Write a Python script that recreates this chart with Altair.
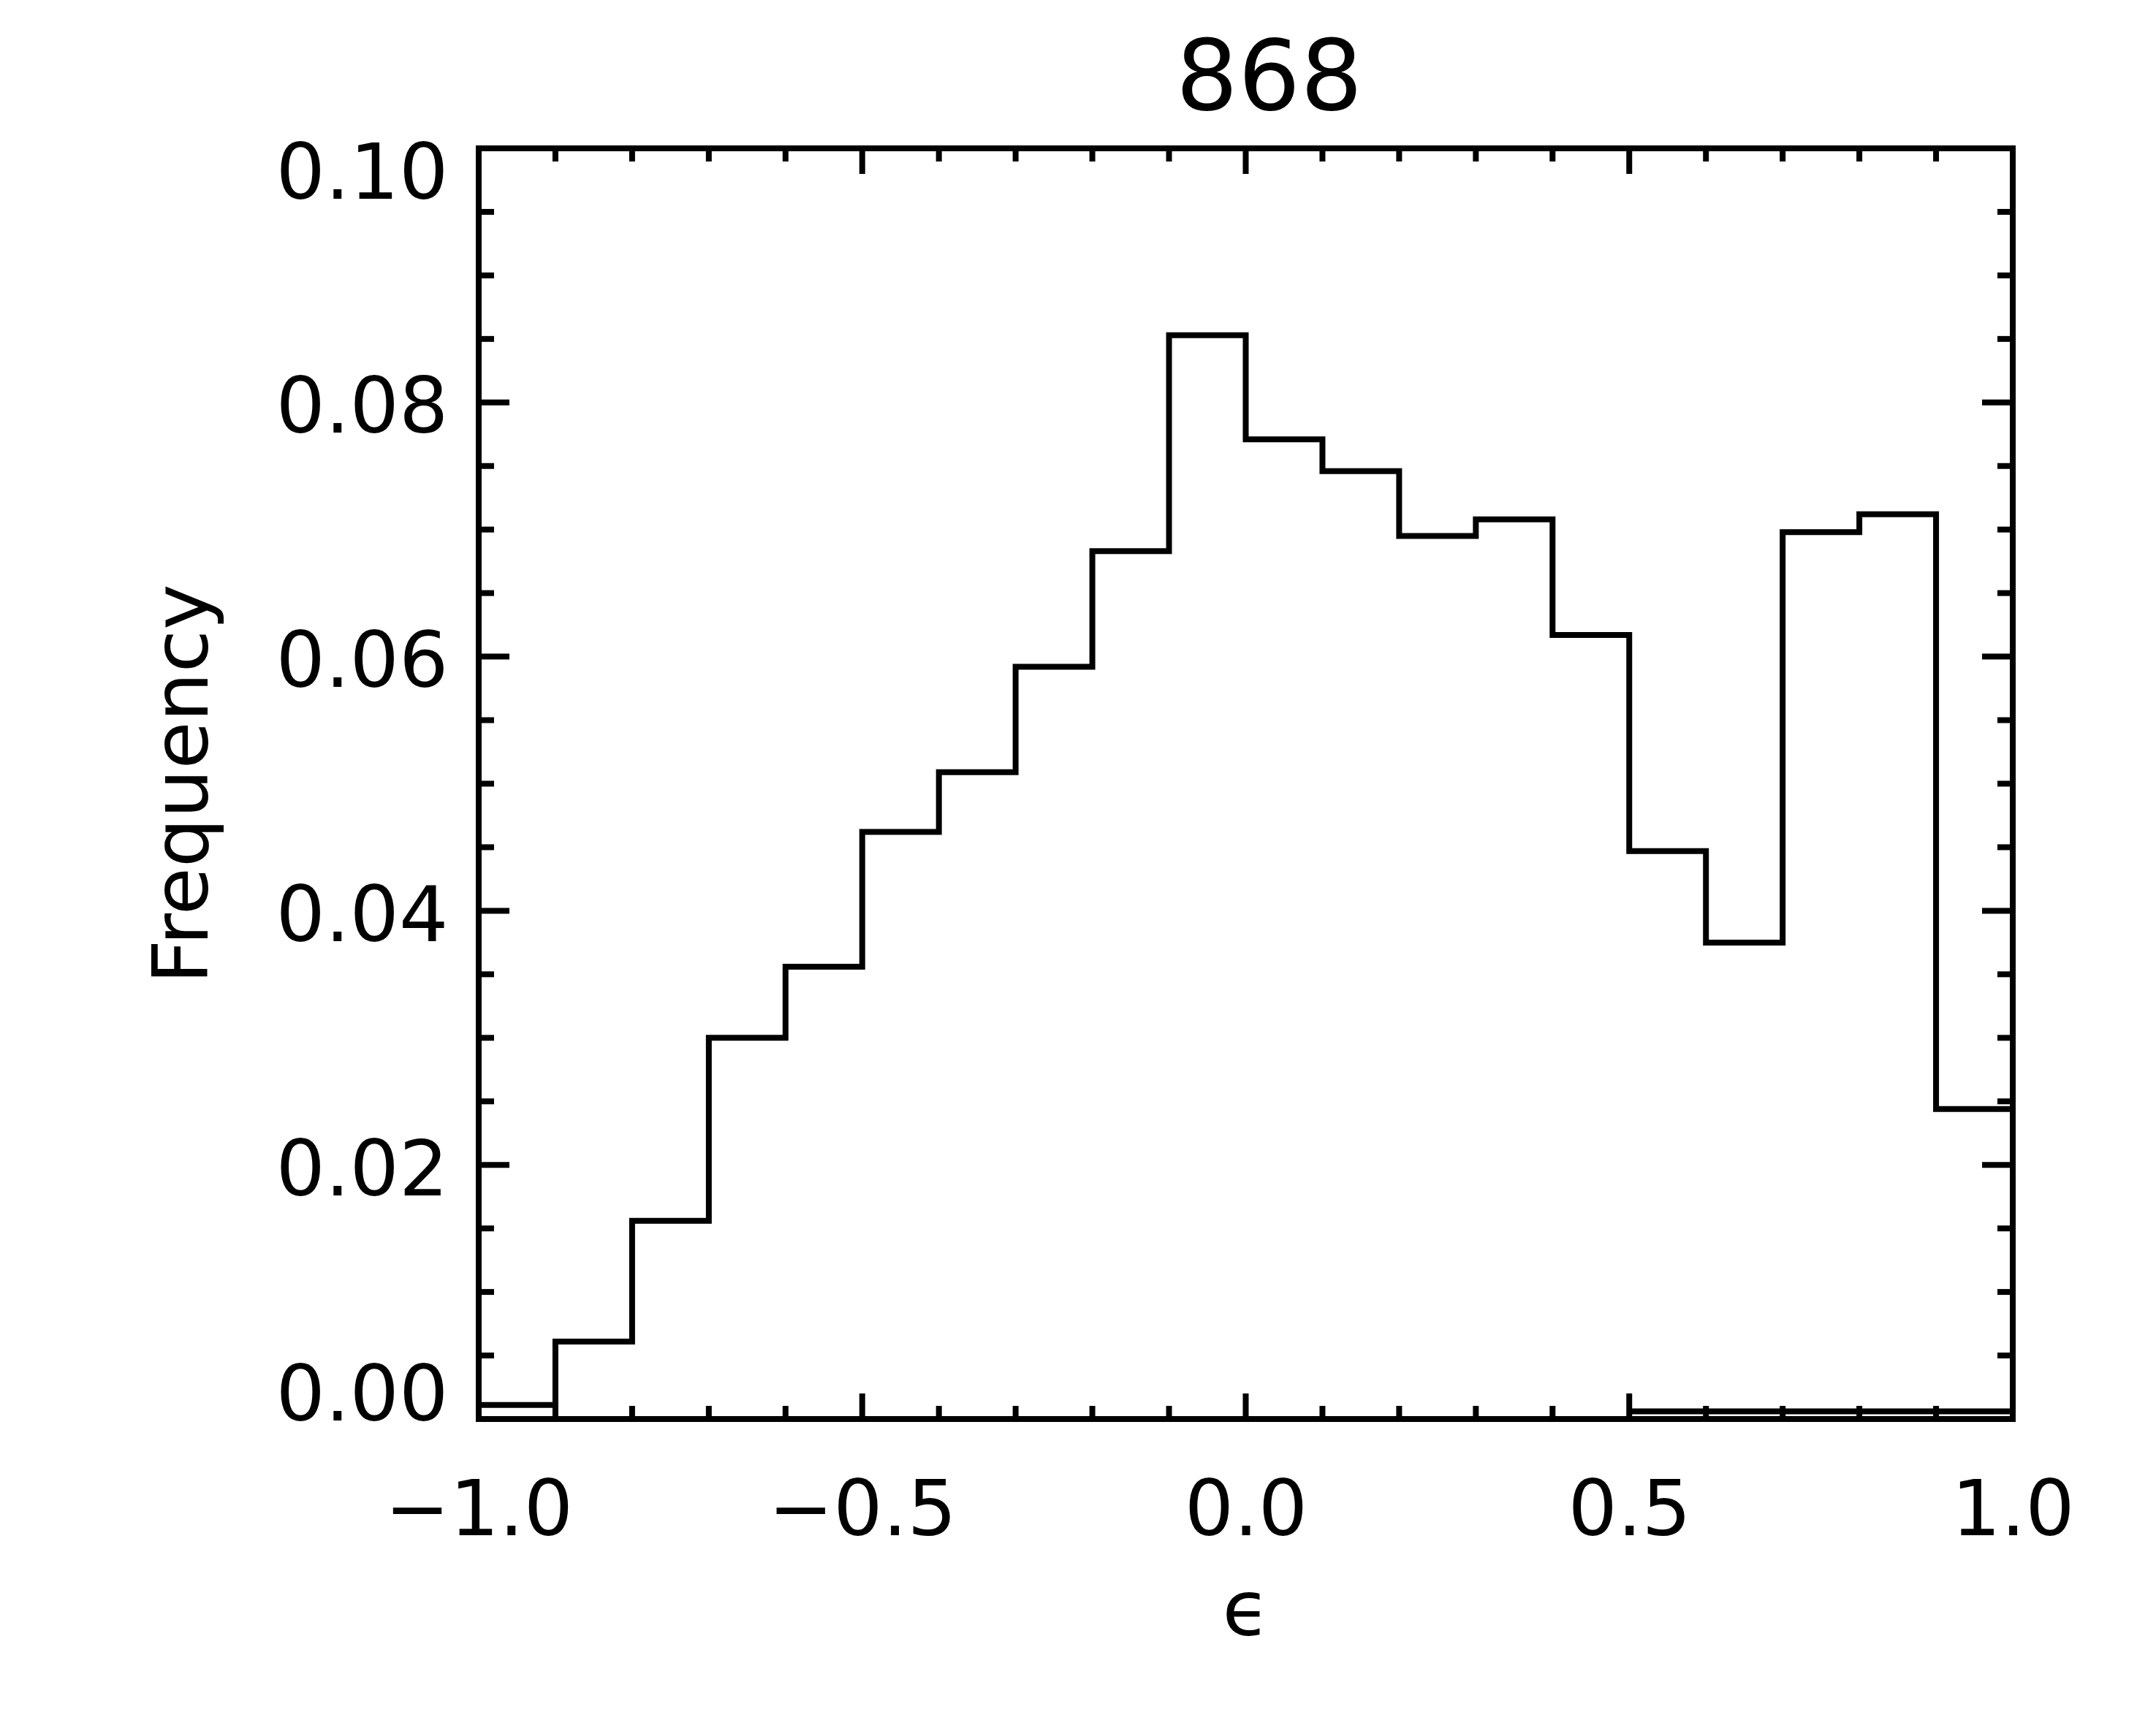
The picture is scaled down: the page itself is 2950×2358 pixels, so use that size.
import altair as alt
import pandas as pd

# ---- data ----
bin_left = [-1.0, -0.9, -0.8, -0.7, -0.6, -0.5, -0.4, -0.3, -0.2, -0.1,
            0.0, 0.1, 0.2, 0.3, 0.4, 0.5, 0.6, 0.7, 0.8, 0.9]
freq = [0.0011, 0.0061, 0.0156, 0.0300, 0.0356, 0.0462, 0.0509, 0.0592, 0.0683, 0.0853,
        0.0771, 0.0746, 0.0695, 0.0708, 0.0617, 0.0447, 0.0375, 0.0698, 0.0712, 0.0244]
x_end = 1.0

low_left = [0.5, 0.6, 0.7, 0.8, 0.9]
low_freq = [0.0006, 0.0006, 0.0006, 0.0006, 0.0006]

x_major = [-1.0, -0.5, 0.0, 0.5, 1.0]
x_minor = [-0.9, -0.8, -0.7, -0.6, -0.4, -0.3, -0.2, -0.1,
           0.1, 0.2, 0.3, 0.4, 0.6, 0.7, 0.8, 0.9]
y_major = [0.0, 0.02, 0.04, 0.06, 0.08, 0.10]
y_minor = [0.005, 0.01, 0.015, 0.025, 0.03, 0.035, 0.045, 0.05, 0.055,
           0.065, 0.07, 0.075, 0.085, 0.09, 0.095]

title_text = "868"
x_title = "ϵ"
y_title = "Frequency"

# ---- layout / style ----
FONT = "DejaVu Sans"
W, H = 2099, 1739
LW = 8
FS = 106

hist_df = pd.DataFrame({"x": bin_left + [x_end], "y": freq + [freq[-1]]})
low_df = pd.DataFrame({"x": low_left + [x_end], "y": low_freq + [low_freq[-1]]})
xmaj_df = pd.DataFrame({"x": x_major})
xmin_df = pd.DataFrame({"x": x_minor})
ymaj_df = pd.DataFrame({"y": y_major})
ymin_df = pd.DataFrame({"y": y_minor})

xs = alt.Scale(domain=[-1.0, 1.0], nice=False, zero=False)
ys = alt.Scale(domain=[0.0, 0.1], nice=False, zero=False)

x_axis = alt.Axis(
    values=x_major, format=".1f", ticks=False, tickSize=0, domain=False, grid=False,
    labelFont=FONT, labelFontSize=FS, labelColor="black", labelPadding=74,
    labelOverlap=False, labelFlush=False, labelLimit=600,
    title=x_title, titleFont=FONT, titleFontSize=FS, titleFontWeight="normal",
    titleColor="black", titleX=W / 2, titleY=295, titleBaseline="alphabetic",
    titleAlign="center", titleLimit=1000,
)
y_axis = alt.Axis(
    values=y_major, format=".2f", ticks=False, tickSize=0, domain=False, grid=False,
    labelFont=FONT, labelFontSize=FS, labelColor="black", labelPadding=42,
    labelOverlap=False, labelFlush=False, labelLimit=600,
    labelOffset={"condition": [{"test": "datum.value > 0.099", "value": 36},
                               {"test": "datum.value < 0.001", "value": -31}],
                 "value": 9},
    title=y_title, titleFont=FONT, titleFontSize=FS, titleFontWeight="normal",
    titleColor="black", titleAngle=270, titleX=-372, titleY=H / 2,
    titleBaseline="alphabetic", titleAlign="center", titleLimit=1500,
)

X = alt.X("x:Q", scale=xs, axis=x_axis)
Y = alt.Y("y:Q", scale=ys, axis=y_axis)

line_style = dict(interpolate="step-after", color="black", strokeWidth=LW,
                  strokeJoin="miter", strokeCap="butt")

hist = alt.Chart(hist_df).mark_line(**line_style).encode(x=X, y=Y)
low = alt.Chart(low_df).mark_line(**line_style).encode(x=X, y=Y)


def xticks(df, length):
    base = alt.Chart(df).mark_rule(color="black", strokeWidth=LW)
    bottom = base.encode(x=X, y=alt.value(H), y2=alt.value(H - length))
    top = base.encode(x=X, y=alt.value(0), y2=alt.value(length))
    return [bottom, top]


def yticks(df, length):
    base = alt.Chart(df).mark_rule(color="black", strokeWidth=LW)
    left = base.encode(y=Y, x=alt.value(0), x2=alt.value(length))
    right = base.encode(y=Y, x=alt.value(W), x2=alt.value(W - length))
    return [left, right]


layers = ([hist, low] + xticks(xmaj_df, 35) + xticks(xmin_df, 18)
          + yticks(ymaj_df, 42) + yticks(ymin_df, 21))

chart = alt.layer(*layers).properties(
    width=W, height=H,
    autosize=alt.AutoSizeParams(type="none"),
    padding={"left": 647, "top": 195, "right": 150, "bottom": 300},
    background="white",
    title=alt.TitleParams(
        text=title_text, font=FONT, fontSize=134, fontWeight="normal", color="black",
        anchor="middle", frame="group", dx=32, offset=-98, baseline="alphabetic",
    ),
).configure_view(stroke="black", strokeWidth=LW)

chart.save("out.html", embed_options={"renderer": "svg", "actions": False})
